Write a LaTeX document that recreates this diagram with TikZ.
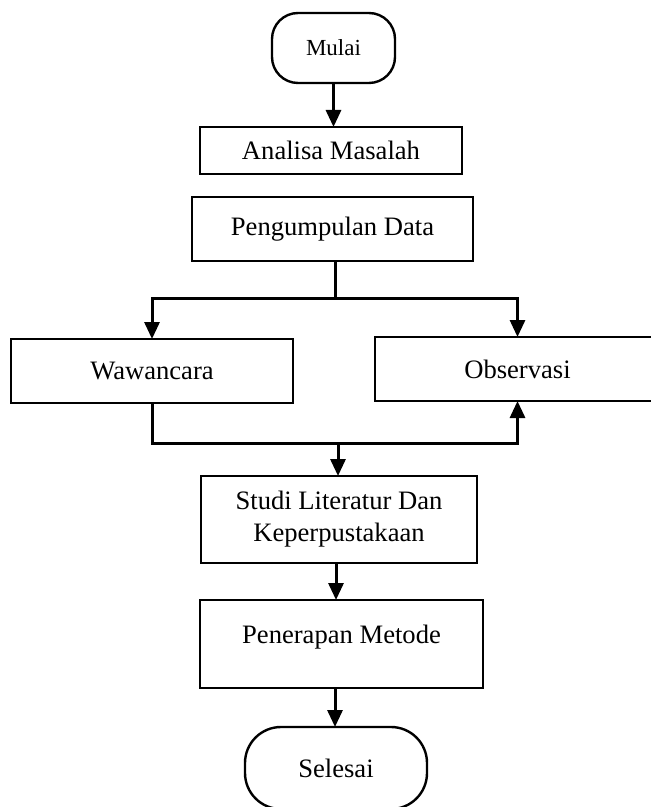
\documentclass[tikz,border=0pt]{standalone}
\usepackage{fontspec}
\setmainfont{Liberation Serif}
\usetikzlibrary{arrows.meta,calc}
\tikzset{
	box/.style={draw, line width=1.2pt, outer sep=0, align=center,
		font=\fontsize{13.3}{16}\selectfont},
	term/.style={box, rounded corners=#1},
	term/.default=11pt,
	flow/.style={line width=1.5pt, -{Triangle[length=8.5pt,width=7.5pt]}},
	bare/.style={line width=1.5pt}
}

\begin{document}
\begin{tikzpicture}[x=0.5pt, y=-0.5pt]
\useasboundingbox (0,0) rectangle (650,807);
\node[term=13pt, minimum width=61.5pt, minimum height=35pt, font=\fontsize{11.5}{14}\selectfont] (mulai) at (333.5,48) {Mulai};
\node[box, minimum width=131pt, minimum height=23.5pt] (analisa) at (331,150.5) {Analisa Masalah};
\node[box, minimum width=140.5pt, minimum height=32pt] (pengumpulan) at (332.5,229) {Pengumpulan Data};
\node[box, minimum width=141pt, minimum height=32pt] (wawancara) at (152,371) {Wawancara};
\node[box, minimum width=142.5pt, minimum height=32pt] (observasi) at (517.5,369) {Observasi};
\node[box, minimum width=138pt, minimum height=43.5pt] (studi) at (339,519.5) {Studi Literatur Dan\\Keperpustakaan};
\node[box, minimum width=141.5pt, minimum height=44pt, text height=9pt, text depth=10pt] (penerapan) at (341.5,644) {Penerapan Metode};
\node[term=18pt, minimum width=91pt, minimum height=41pt] (selesai) at (336,768) {Selesai};

\coordinate (split) at (335,299);
\coordinate (join) at (338,443);

\draw[flow] (mulai.south) -- (mulai.south |- analisa.north);
\draw[bare] (split |- pengumpulan.south) -- (split);
\draw[flow] (split) -| (wawancara.north);
\draw[flow] (split) -| (observasi.north);
\draw[flow] (wawancara.south) |- (join) -| (observasi.south);
\draw[flow] (join) -- (join |- studi.north);
\draw[flow] (studi.south -| 336,0) -- (penerapan.north -| 336,0);
\draw[flow] (penerapan.south -| 335,0) -- (selesai.north -| 335,0);
\end{tikzpicture}
\end{document}
